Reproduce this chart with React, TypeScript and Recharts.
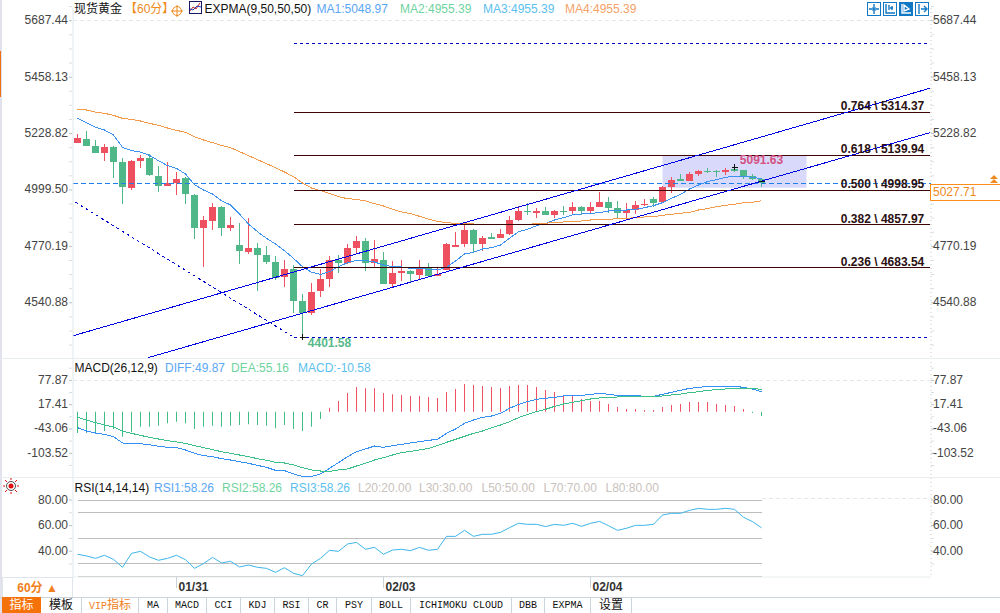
import React from "react";
import {
  Bar,
  Cell,
  ComposedChart,
  Line,
  ReferenceArea,
  ReferenceDot,
  ReferenceLine,
  XAxis,
  YAxis,
} from "recharts";

// candles, one per hour
const opens = [
  5191.7, 5206.6, 5178.2, 5151.1, 5172.7, 5113.1, 5008.8, 5118.5, 5129.4, 5056.2, 5016.9, 5027.8, 5048.1, 4979, 4846.2, 4874.6,
  4928.8, 4846.2, 4775.7, 4747.3, 4763.5, 4733.7, 4706.6, 4647, 4678.2, 4548.1, 4500.7, 4588.8, 4637.6, 4716.2, 4702.7, 4763.6,
  4792.1, 4704, 4714.9, 4617.3, 4662, 4670.1, 4655.2, 4681, 4649.8, 4674.2, 4767.7, 4779.9, 4836.8, 4779.9, 4808.3, 4804.3,
  4820.5, 4877.4, 4914, 4905.9, 4914, 4897.7, 4914, 4914, 4930.2, 4914, 4930.2, 4950.6, 4926.2, 4905.9, 4919.4, 4938.4,
  4962.8, 4950.6, 5011.5, 5044, 5035.9, 5064.4, 5076.6, 5076.6, 5072.5, 5084.7, 5080.7, 5056.3, 5044,
];
const closes = [
  5210.7, 5179.5, 5149.7, 5172.7, 5113.1, 5012.9, 5117.2, 5129.4, 5060.3, 5016.9, 5026.4, 5042.7, 4984.4, 4846.2, 4877.4, 4928.8,
  4846.2, 4857, 4752.7, 4763.5, 4736.4, 4708, 4641.6, 4678.2, 4549.4, 4499.3, 4584.7, 4637.6, 4714.9, 4704, 4763.6, 4792.1,
  4704, 4718.9, 4617.3, 4662, 4670.1, 4656.6, 4681, 4649.8, 4657.9, 4779.9, 4775.8, 4836.8, 4779.9, 4804.3, 4800.2, 4820.5,
  4877.4, 4914, 4910, 4914, 4897.7, 4914, 4911.3, 4930.2, 4914, 4930.2, 4950.6, 4926.2, 4905.9, 4919.4, 4938.4, 4942.4,
  4946.5, 5011.5, 5040, 5035.9, 5064.4, 5076.6, 5072.5, 5071.2, 5080.7, 5076.6, 5056.3, 5044, 5027.71,
];
const highs = [
  5227, 5237.8, 5202.6, 5184.9, 5178.2, 5129.4, 5121.3, 5141.6, 5145.6, 5096.9, 5113.1, 5072.5, 5050.8, 4981.7, 4893.6, 4946.4,
  4932.9, 4889.6, 4865.2, 4885.5, 4783.9, 4771.7, 4731, 4714.8, 4694.5, 4576.5, 4621.2, 4676.9, 4731.1, 4735.2, 4779.9, 4812.4,
  4805.6, 4796.2, 4747.4, 4710.8, 4714.9, 4674.2, 4714.9, 4701.3, 4681, 4782.6, 4828.7, 4859.8, 4839.5, 4812.4, 4824.6, 4840.9,
  4893.7, 4934.4, 4946.6, 4926.2, 4930.2, 4918, 4934.3, 4950.6, 4934.3, 4950.6, 4991.2, 4970.9, 4954.6, 4946.5, 4954.6, 4962.8,
  4970.9, 5015.6, 5052.2, 5064.4, 5072.5, 5080.7, 5088.8, 5080.7, 5088.8, 5091.63, 5080.7, 5064.4, 5048.1,
];
const lows = [
  5191.7, 5179.5, 5148.4, 5118.5, 5049.4, 4943.7, 5000.7, 5090.1, 5057.6, 4992.5, 5016.9, 4980.3, 4943.7, 4801.5, 4687.7, 4838,
  4813.7, 4832.6, 4699.8, 4740.5, 4590.1, 4699.8, 4634.8, 4606.4, 4500.7, 4401.58, 4491.2, 4565.8, 4605.1, 4660.7, 4698.6, 4744.7,
  4671.5, 4686.4, 4617.3, 4601, 4630.8, 4622.7, 4633.5, 4649.8, 4649.8, 4674.2, 4767.7, 4769, 4746, 4752.8, 4800.2, 4804.3,
  4816.5, 4873.4, 4897.8, 4885.6, 4897.7, 4885.5, 4897.7, 4901.8, 4897.7, 4901.8, 4930.2, 4905.9, 4885.5, 4885.5, 4901.8, 4934.3,
  4930.2, 4949.2, 4987.2, 5035.9, 5035.9, 5056.3, 5068.4, 5052.2, 5060.3, 5072.5, 5044, 5040, 5011.5,
];
const expma1 = [
  5290.6, 5273, 5254, 5243.2, 5222.9, 5172.7, 5159.2, 5153.7, 5140.2, 5118.5, 5098.2, 5087.4, 5064.3, 5021, 4999.3, 4983,
  4955.9, 4938.3, 4901.7, 4861, 4829.9, 4802.8, 4779.7, 4752.6, 4721.5, 4687.6, 4665, 4656.5, 4667.4, 4687.7, 4704, 4713.5,
  4713.5, 4706.7, 4694.5, 4687.7, 4686.4, 4681, 4681, 4676.9, 4674.2, 4685, 4710.8, 4739.2, 4746, 4759.6, 4765, 4775.8,
  4802.9, 4830, 4839.5, 4854.4, 4862.5, 4877.4, 4886.9, 4897.8, 4901.8, 4904.5, 4907.2, 4914, 4918, 4918, 4920.8, 4927.6,
  4935.7, 4947.9, 4965.5, 4981.8, 5003.4, 5019.7, 5033.3, 5041.4, 5050.9, 5054.9, 5054.9, 5050.9, 5045,
];
const expma2 = [
  5328.5, 5324.5, 5316.3, 5310.9, 5302.8, 5290.6, 5286.5, 5279.8, 5270.3, 5262.2, 5251.3, 5241.9, 5233.7, 5216.1, 5202.5, 5191.7,
  5180.9, 5171.4, 5155.1, 5138.9, 5122.6, 5106.3, 5090.1, 5072.5, 5053.5, 5027.8, 5007.4, 4996.6, 4985.7, 4972.2, 4964.1, 4961.4,
  4954.7, 4943.8, 4934.4, 4920.8, 4910, 4903.2, 4892.4, 4880.2, 4872, 4866.6, 4863.9, 4862.5, 4861.2, 4858.5, 4857.1, 4857.1,
  4857.1, 4858.5, 4859.8, 4862.5, 4863.9, 4867.9, 4869.3, 4870.7, 4873.4, 4877.4, 4880.1, 4880.1, 4882.9, 4884.2, 4886.9, 4889.6,
  4891, 4896.4, 4900.5, 4904.5, 4908.6, 4918.1, 4923.5, 4931.6, 4937.1, 4941.1, 4947.9, 4949.2, 4955.39,
];

const macdHist = [
  -53, -53, -51.4, -48, -43.1, -62.2, -51.4, -37.3, -37.3, -34.8, -29, -24.9, -29, -43.1, -37.3, -34.8,
  -37.3, -34.8, -33.2, -31.5, -33.2, -34.8, -41.5, -33.2, -43.1, -48.1, -37.3, -18.2, 9.9, 26.5, 46.4, 61.3,
  58, 58, 46.4, 43.1, 41.5, 39, 39, 36.5, 34, 48.9, 56.4, 68.8, 66.3, 63.8, 61.3, 58.9,
  63.8, 66.3, 66.3, 61.3, 53.9, 48.9, 41.5, 38.9, 31.5, 26.5, 26.5, 19, 11.6, 6.6, 6.6, 4.1,
  4.1, 11.6, 16.6, 19, 24, 24, 24, 19, 16.6, 14.1, 6.6, -3.3, -10.58,
];
const macdDiff = [
  -39.8, -48.1, -53.1, -56.4, -62.2, -77.9, -78.8, -79.6, -82.1, -86.2, -88.7, -89.5, -95.3, -103.6, -109.4, -111.9,
  -116.9, -120.2, -124.4, -128.5, -133.5, -138.4, -145.9, -146.7, -155, -160.8, -160.8, -155, -140.9, -126.8, -111.9, -99.5,
  -92.8, -85.4, -88.7, -84.6, -81.2, -77.9, -74.6, -71.3, -68.8, -53.9, -43.1, -29, -20.7, -14.1, -10.8, -4.1,
  8.3, 18.2, 24.9, 30.7, 33.2, 35.6, 39, 40.6, 40.6, 43.1, 45.6, 43.1, 40.6, 40.6, 40.6, 38.1,
  38.1, 43.1, 48.1, 53.1, 58, 60.5, 63, 63, 63, 63, 60.5, 56.4, 49.87,
];
const macdDea = [
  -14.1, -20.7, -27.4, -33.2, -38.1, -48.1, -53.9, -58.9, -63.8, -68, -72.1, -75.4, -78.8, -84.6, -89.5, -94.5,
  -99.5, -103.6, -107.8, -111.9, -116.9, -121, -126, -127.7, -132.6, -139.3, -145.1, -147.6, -148.4, -145.1, -142.6, -135.1,
  -128.5, -120.2, -114.4, -107.8, -102, -98.7, -95.3, -91.2, -84.6, -76.3, -68.8, -61.3, -53.9, -48.1, -39.8, -33.2,
  -24.9, -14.9, -6.6, 0, 5.8, 13.3, 19.1, 23.2, 27.4, 31.5, 34, 35.6, 36.5, 37.3, 38.1, 38.1,
  38.1, 39, 41.5, 43.9, 47.3, 49.7, 53.1, 54.7, 56.4, 58, 58, 58, 55.16,
];
const rsiValues = [
  37.6, 36.3, 34.4, 36.8, 33.6, 27.4, 38.3, 39.9, 35.5, 32.9, 34.4, 36.8, 33.4, 26.6, 30.3, 35.2,
  30.8, 32.1, 27.7, 29.2, 27.4, 26.6, 23.5, 27.1, 22.7, 20.9, 30, 34.4, 40.7, 39.9, 45.6, 46.9,
  41.5, 43, 37.6, 40.9, 41.5, 40.4, 43, 40.7, 41.5, 51.6, 51.6, 56.3, 51.6, 53.2, 53.2, 54.7,
  58.4, 61.8, 61, 61, 59.2, 61, 60.2, 61.8, 59.4, 61.8, 63.3, 59.9, 56.3, 57.9, 60.2, 60.2,
  61, 68.3, 69.6, 69.6, 71.9, 73.5, 72.7, 72.7, 73.5, 72.7, 66.5, 63.1, 58.26,
];

const priceTicks = [5687.44, 5458.13, 5228.82, 4999.5, 4770.19, 4540.88];
const priceTicksRight = [5687.44, 5458.13, 5228.82, 4770.19, 4540.88]; // 4999.50 sits under the price tag
const macdTicks = [77.87, 17.41, -43.06, -103.52];
const rsiTicks = [80, 60, 40];
const rsiLevels = [80, 70, 50, 30, 20];
const dateTicks = [11, 34, 57];
const dateLabels = ["01/31", "02/03", "02/04"];

const fibRatios = ["0.764", "0.618", "0.500", "0.382", "0.236"];
const fibPrices = [5314.37, 5139.94, 4998.95, 4857.97, 4683.54];

const lastPrice = 5027.71;
const swingHigh = 5091.63;
const swingLow = 4401.58;

const klineData = opens.map((open, i) => ({
  i,
  open,
  close: closes[i],
  high: highs[i],
  low: lows[i],
  ma1: expma1[i],
  ma2: expma2[i],
}));
const macdData = macdHist.map((hist, i) => ({ i, hist, diff: macdDiff[i], dea: macdDea[i] }));
const rsiData = rsiValues.map((rsi, i) => ({ i, rsi }));

const FONT = '"Liberation Sans", "Noto Sans CJK SC", sans-serif';
const RED = "#ee5060";
const GREEN = "#50b888";
const X_DOMAIN = [-0.5, 94.83];
const X_END = 94.7;

const priceMinor = priceTicks.flatMap((t) => [1, 2, 3].map((n) => t - (n * 229.31) / 4)).concat([5687.44 + 57.33]);
const macdMinor = macdTicks.map((t) => t - 30.23).concat([77.87 + 30.23]);
const rsiMinor = [70, 50, 30];

const AxisTick = (props: any) => {
  const { y, payload, side, majors } = props;
  const major = majors.includes(payload.value);
  const lineX = side === "left" ? 69 : 931;
  return (
    <g>
      <line x1={lineX} x2={lineX + 3} y1={y} y2={y} stroke={major ? "#b8c2c8" : "#d6dfe4"} />
      {major && (
        <text
          x={side === "left" ? 68 : 933}
          y={y - 0.5}
          textAnchor={side === "left" ? "end" : "start"}
          dominantBaseline="central"
          fontSize={12}
          fill="#444"
          fontFamily={FONT}
        >
          {payload.value.toFixed(2)}
        </text>
      )}
    </g>
  );
};

const DateTick = (props: any) => {
  const { x, y, payload } = props;
  return (
    <g>
      <line x1={x} x2={x} y1={y - 8} y2={y + 3} stroke="#ccd3d8" />
      <text x={x + 2} y={y + 6} fontSize={12} fontWeight="bold" fill="#333" fontFamily={FONT}>
        {dateLabels[dateTicks.indexOf(payload.value)]}
      </text>
    </g>
  );
};

const Candle = (props: any) => {
  const { x, y, width, height, payload } = props;
  const { open, close, high, low } = payload;
  const perUnit = height / (high - low);
  const top = y + (high - Math.max(open, close)) * perUnit;
  const bodyH = Math.max(1, Math.abs(open - close) * perUnit);
  const color = close >= open ? RED : GREEN;
  const mid = Math.floor(x + width / 2) + 0.5;
  return (
    <g shapeRendering="crispEdges">
      <line x1={mid} x2={mid} y1={y} y2={y + height} stroke={color} />
      <rect x={mid - 3.5} y={top} width={7} height={bodyH} fill={color} />
    </g>
  );
};

const PlusMark = (props: any) => {
  const { cx, cy } = props;
  return (
    <path d={`M${cx - 3} ${cy}H${cx + 3}M${cx} ${cy - 3}V${cy + 3}`} stroke="#111" fill="none" shapeRendering="crispEdges" />
  );
};

const DashMark = (props: any) => {
  const { cx, cy } = props;
  return <path d={`M${cx - 3} ${cy}H${cx + 3}`} stroke="#111" fill="none" shapeRendering="crispEdges" />;
};

const T = ({ x, y, color, children, bold }: any) => (
  <div
    style={{
      position: "absolute",
      left: x,
      top: y,
      color,
      fontSize: 12,
      lineHeight: "14px",
      whiteSpace: "nowrap",
      fontWeight: bold ? "bold" : "normal",
    }}
  >
    {children}
  </div>
);

const Sep = ({ y }: any) => (
  <div style={{ position: "absolute", left: 0, top: y, width: 1000, height: 1, background: "#e8edf0" }} />
);

const ToolIcon = ({ x, filled, d }: any) => (
  <svg width={14} height={14} style={{ position: "absolute", left: x, top: 2 }}>
    <rect x={0.5} y={0.5} width={13} height={13} fill={filled ? "#1178c4" : "#fff"} stroke="#1178c4" />
    <path d={d} fill="none" stroke={filled ? "#fff" : "#1178c4"} strokeWidth={1.4} />
  </svg>
);

const tabs = [
  { label: "模板", left: 41, right: 82, color: "#111", cjk: true },
  { label: "VIP", suffix: "指标", left: 82, right: 139, color: "#f08020" },
  { label: "MA", left: 139, right: 168 },
  { label: "MACD", left: 168, right: 207 },
  { label: "CCI", left: 207, right: 241 },
  { label: "KDJ", left: 241, right: 275 },
  { label: "RSI", left: 275, right: 309 },
  { label: "CR", left: 309, right: 337 },
  { label: "PSY", left: 337, right: 372 },
  { label: "BOLL", left: 372, right: 411 },
  { label: "ICHIMOKU CLOUD", left: 411, right: 512 },
  { label: "DBB", left: 512, right: 545 },
  { label: "EXPMA", left: 545, right: 591 },
  { label: "设置", left: 591, right: 632, cjk: true },
];

export default function App() {
  return (
    <div
      style={{
        position: "absolute",
        left: 0,
        top: 0,
        width: 1000,
        height: 613,
        background: "#fff",
        overflow: "hidden",
        fontFamily: FONT,
      }}
    >
      <div style={{ position: "absolute", left: 0, top: 0, width: 2, height: 613, background: "#e2e2ec" }} />
      <div style={{ position: "absolute", left: 0, top: 51, width: 1, height: 46, background: "#f07010" }} />

      <div style={{ position: "absolute", left: 0, top: 0 }}>
        <ComposedChart width={1000} height={358} data={klineData} margin={{ top: 8, right: 0, bottom: 0, left: 0 }}>
          <XAxis dataKey="i" type="number" domain={X_DOMAIN} hide />
          <YAxis
            yAxisId="p"
            width={73}
            domain={[4316.5, 5739.1]}
            allowDataOverflow
            ticks={[...priceTicks, ...priceMinor]}
            interval={0}
            axisLine={{ stroke: "#dfe7ec" }}
            tickLine={false}
            tick={<AxisTick side="left" majors={priceTicks} />}
          />
          <YAxis
            yAxisId="p2"
            orientation="right"
            width={69}
            domain={[4316.5, 5739.1]}
            allowDataOverflow
            ticks={[...priceTicks, ...priceMinor]}
            interval={0}
            axisLine={{ stroke: "#c8c8c8", strokeDasharray: "1 3" }}
            tickLine={false}
            tick={<AxisTick side="right" majors={priceTicksRight} />}
          />
          <ReferenceLine yAxisId="p" y={5687.44} stroke="#e6e6e6" strokeDasharray="4 3" shapeRendering="crispEdges" />
          <ReferenceLine yAxisId="p" y={lastPrice} stroke="#1e80e8" strokeDasharray="5 3" shapeRendering="crispEdges" />
          <Bar yAxisId="p" dataKey={(d: any) => [d.low, d.high]} barSize={7} shape={<Candle />} isAnimationActive={false} />
          <Line yAxisId="p" dataKey="ma1" stroke="#3b92f0" strokeWidth={1} dot={false} shapeRendering="crispEdges" isAnimationActive={false} />
          <Line yAxisId="p" dataKey="ma2" stroke="#f59a4a" strokeWidth={1} dot={false} shapeRendering="crispEdges" isAnimationActive={false} />
          {/* fibonacci levels and channels */}
          {fibPrices.map((p) => (
            <ReferenceLine
              key={p}
              yAxisId="p"
              stroke="#3c0505"
              shapeRendering="crispEdges"
              segment={[
                { x: 24, y: p },
                { x: X_END, y: p },
              ]}
            />
          ))}
          <ReferenceLine
            yAxisId="p"
            stroke="#0000e6"
            shapeRendering="crispEdges"
            segment={[
              { x: -0.48, y: 4407.1 },
              { x: X_END, y: 5412.7 },
            ]}
          />
          <ReferenceLine
            yAxisId="p"
            stroke="#0000e6"
            shapeRendering="crispEdges"
            segment={[
              { x: 7.86, y: 4318.1 },
              { x: X_END, y: 5232.3 },
            ]}
          />
          <ReferenceLine
            yAxisId="p"
            stroke="#0000cc"
            strokeDasharray="3 3"
            shapeRendering="crispEdges"
            segment={[
              { x: -0.22, y: 4949.4 },
              { x: 24, y: swingLow },
            ]}
          />
          <ReferenceLine
            yAxisId="p"
            stroke="#0000cc"
            strokeDasharray="3 3"
            shapeRendering="crispEdges"
            segment={[
              { x: 24, y: swingLow },
              { x: X_END, y: swingLow },
            ]}
          />
          <ReferenceLine
            yAxisId="p"
            stroke="#0000cc"
            strokeDasharray="3 3"
            shapeRendering="crispEdges"
            segment={[
              { x: 24, y: 5595.6 },
              { x: X_END, y: 5595.6 },
            ]}
          />
          <ReferenceArea yAxisId="p" x1={65} x2={81} y1={5008.7} y2={5139.94} fill="#1e1ee6" fillOpacity={0.17} stroke="none" />
          <ReferenceDot yAxisId="p" x={73} y={swingHigh} r={1} shape={<PlusMark />} />
          <ReferenceDot yAxisId="p" x={25} y={swingLow} r={1} shape={<PlusMark />} />
          <ReferenceDot yAxisId="p" x={76} y={5033} r={1} shape={<DashMark />} />
          <ReferenceDot
            yAxisId="p"
            x={76}
            y={5121.3}
            r={0}
            stroke="none"
            label={{ value: swingHigh.toFixed(2), position: "center", fontSize: 12, fontWeight: "bold", fill: "#d4507f" }}
          />
          <ReferenceDot
            yAxisId="p"
            x={28}
            y={4377.5}
            r={0}
            stroke="none"
            label={{ value: swingLow.toFixed(2), position: "center", fontSize: 12, fontWeight: "bold", fill: "#58b98c" }}
          />
          {fibPrices.map((p, n) => (
            <ReferenceDot
              key={p}
              yAxisId="p"
              x={89.45}
              y={p}
              r={0}
              stroke="none"
              label={{
                value: `${fibRatios[n]} \\ ${p.toFixed(2)}`,
                position: "top",
                offset: 2,
                fontSize: 12,
                fontWeight: "bold",
                fill: "#2a1010",
              }}
            />
          ))}
        </ComposedChart>
      </div>

      <div style={{ position: "absolute", left: 0, top: 358 }}>
        <ComposedChart width={1000} height={119} data={macdData} margin={{ top: 0, right: 0, bottom: 0, left: 0 }}>
          <XAxis dataKey="i" type="number" domain={X_DOMAIN} hide />
          <YAxis
            yAxisId="m"
            width={73}
            domain={[-162.5, 133.5]}
            allowDataOverflow
            ticks={[...macdTicks, ...macdMinor]}
            interval={0}
            axisLine={{ stroke: "#dfe7ec" }}
            tickLine={false}
            tick={<AxisTick side="left" majors={macdTicks} />}
          />
          <YAxis
            yAxisId="m2"
            orientation="right"
            width={69}
            domain={[-162.5, 133.5]}
            allowDataOverflow
            ticks={[...macdTicks, ...macdMinor]}
            interval={0}
            axisLine={{ stroke: "#c8c8c8", strokeDasharray: "1 3" }}
            tickLine={false}
            tick={<AxisTick side="right" majors={macdTicks} />}
          />
          <ReferenceLine yAxisId="m" y={77.87} stroke="#e6e6e6" strokeDasharray="4 3" shapeRendering="crispEdges" />
          <Bar yAxisId="m" dataKey="hist" barSize={1} isAnimationActive={false}>
            {macdHist.map((v, i) => (
              <Cell key={i} fill={v >= 0 ? RED : "#3fbd85"} />
            ))}
          </Bar>
          <Line yAxisId="m" dataKey="diff" stroke="#3490f5" strokeWidth={1} dot={false} shapeRendering="crispEdges" isAnimationActive={false} />
          <Line yAxisId="m" dataKey="dea" stroke="#3cc08a" strokeWidth={1} dot={false} shapeRendering="crispEdges" isAnimationActive={false} />
        </ComposedChart>
      </div>

      <div style={{ position: "absolute", left: 0, top: 478 }}>
        <ComposedChart width={1000} height={119} data={rsiData} margin={{ top: 0, right: 0, bottom: 0, left: 0 }}>
          <XAxis
            dataKey="i"
            type="number"
            domain={X_DOMAIN}
            ticks={dateTicks}
            interval={0}
            height={20}
            axisLine={{ stroke: "#e8edf0" }}
            tickLine={false}
            tick={<DateTick />}
          />
          <YAxis
            yAxisId="r"
            width={73}
            domain={[19.84, 97.19]}
            allowDataOverflow
            ticks={[...rsiTicks, ...rsiMinor]}
            interval={0}
            axisLine={{ stroke: "#dfe7ec" }}
            tickLine={false}
            tick={<AxisTick side="left" majors={rsiTicks} />}
          />
          <YAxis
            yAxisId="r2"
            orientation="right"
            width={69}
            domain={[19.84, 97.19]}
            allowDataOverflow
            ticks={[...rsiTicks, ...rsiMinor]}
            interval={0}
            axisLine={{ stroke: "#c8c8c8", strokeDasharray: "1 3" }}
            tickLine={false}
            tick={<AxisTick side="right" majors={rsiTicks} />}
          />
          <ReferenceLine
            yAxisId="r"
            stroke="#e6e6e6"
            strokeDasharray="4 3"
            shapeRendering="crispEdges"
            segment={[
              { x: 76, y: 80.8 },
              { x: X_END, y: 80.8 },
            ]}
          />
          {rsiLevels.map((v) => (
            <ReferenceLine
              key={v}
              yAxisId="r"
              stroke="#bdbdbd"
              shapeRendering="crispEdges"
              segment={[
                { x: 0, y: v },
                { x: 76, y: v },
              ]}
            />
          ))}
          <Line yAxisId="r" dataKey="rsi" stroke="#3cb6ea" strokeWidth={1} dot={false} isAnimationActive={false} />
        </ComposedChart>
      </div>

      <Sep y={358} />
      <Sep y={477} />

      {/* price header */}
      <T x={74} y={2} color="#111">现货黄金</T>
      <T x={125} y={2} color="#f08a20">【60分】</T>
      <svg width={12} height={12} style={{ position: "absolute", left: 171, top: 5 }}>
        <circle cx={6} cy={6} r={4.5} fill="none" stroke="#f08a20" />
        <path d="M0 6H12M6 0V12" stroke="#f08a20" />
      </svg>
      <svg width={13} height={13} style={{ position: "absolute", left: 189, top: 1 }}>
        <rect x={0.5} y={0.5} width={12} height={12} fill="#fff" stroke="#16166a" />
        <path d="M1 10L4 6L7 8L11 2" fill="none" stroke="#d02020" />
        <path d="M1 8L4 9L8 5L12 6" fill="none" stroke="#2040c0" />
      </svg>
      <T x={204.5} y={2} color="#111">EXPMA(9,50,50,50)</T>
      <T x={316.5} y={2} color="#5aa6f5">MA1:5048.97</T>
      <T x={400} y={2} color="#6fd3a0">MA2:4955.39</T>
      <T x={483} y={2} color="#5cc0ee">MA3:4955.39</T>
      <T x={565} y={2} color="#f5a268">MA4:4955.39</T>

      <ToolIcon x={867} d="M7 2V5M7 9V12M2 7H5M9 7H12M6 6H8V8H6Z" />
      <ToolIcon x={883} d="M3 2V11H12M6 3V8M9 4V8M10 6H7" />
      <ToolIcon x={899} filled d="M3 2V11H12M5 3L10 7L5 9Z" />
      <ToolIcon x={915} d="M4 2V12M6 7H12M9 4L12 7L9 10" />

      {/* last price tag */}
      <svg width={10} height={9} style={{ position: "absolute", left: 989, top: 175 }}>
        <path d="M5 0L9 4H1ZM5 4L9 8H1Z" fill="#f08a20" />
      </svg>
      <div
        style={{
          position: "absolute",
          left: 930,
          top: 184,
          width: 67,
          height: 15,
          border: "1px solid #ff8c1a",
          color: "#f08a20",
          fontSize: 12,
          lineHeight: "15px",
          paddingLeft: 2,
          boxSizing: "content-box",
          background: "#fff",
        }}
      >
        {lastPrice.toFixed(2)}
      </div>

      {/* macd header */}
      <T x={74.5} y={361} color="#111">MACD(26,12,9)</T>
      <T x={165} y={361} color="#5aa6f5">DIFF:49.87</T>
      <T x={231} y={361} color="#6fd3a0">DEA:55.16</T>
      <T x={298} y={361} color="#5cc0ee">MACD:-10.58</T>

      {/* rsi header */}
      <svg width={16} height={16} style={{ position: "absolute", left: 3, top: 478 }}>
        <circle cx={8} cy={8} r={2.5} fill="#e01010" />
        <circle cx={8} cy={8} r={4.5} fill="none" stroke="#222" strokeWidth={0.8} />
        <path d="M8 0V2M8 14V16M0 8H2M14 8H16M2 2L4 4M12 12L14 14M14 2L12 4M4 12L2 14" stroke="#e01010" />
      </svg>
      <T x={74.5} y={481} color="#111">RSI(14,14,14)</T>
      <T x={154} y={481} color="#5aa6f5">RSI1:58.26</T>
      <T x={222} y={481} color="#6fd3a0">RSI2:58.26</T>
      <T x={290} y={481} color="#5cc0ee">RSI3:58.26</T>
      <T x={358} y={481} color="#c9c2bc">L20:20.00</T>
      <T x={419} y={481} color="#c9c2bc">L30:30.00</T>
      <T x={481.5} y={481} color="#c9c2bc">L50:50.00</T>
      <T x={543.5} y={481} color="#c9c2bc">L70:70.00</T>
      <T x={605.5} y={481} color="#c9c2bc">L80:80.00</T>

      {/* period box and tabs */}
      <div
        style={{
          position: "absolute",
          left: 2,
          top: 577,
          width: 69,
          height: 19,
          border: "1px solid #dfe5ea",
          color: "#f08020",
          fontSize: 12,
          fontWeight: "bold",
          lineHeight: "20px",
          textAlign: "center",
        }}
      >
        60分 ▲
      </div>
      <div style={{ position: "absolute", left: 0, top: 597, width: 1000, height: 1, background: "#ccd5de" }} />
      <div
        style={{
          position: "absolute",
          left: 2,
          top: 597,
          width: 39,
          height: 16,
          background: "#f5720a",
          color: "#fff",
          fontSize: 12,
          lineHeight: "16px",
          textAlign: "center",
        }}
      >
        指标
      </div>
      {tabs.map((t) => (
        <div
          key={t.label}
          style={{
            position: "absolute",
            left: t.left,
            top: 598,
            width: t.right - t.left,
            height: 15,
            borderRight: "1px solid #ccd5de",
            boxSizing: "border-box",
            color: t.color ?? "#111",
            fontFamily: t.cjk ? FONT : '"Liberation Mono", "Noto Sans CJK SC", monospace',
            fontSize: t.cjk ? 12 : 10,
            lineHeight: "15px",
            textAlign: "center",
            whiteSpace: "nowrap",
          }}
        >
          {t.label}
          {t.suffix && <span style={{ fontSize: 12, fontFamily: FONT }}>{t.suffix}</span>}
        </div>
      ))}
    </div>
  );
}
